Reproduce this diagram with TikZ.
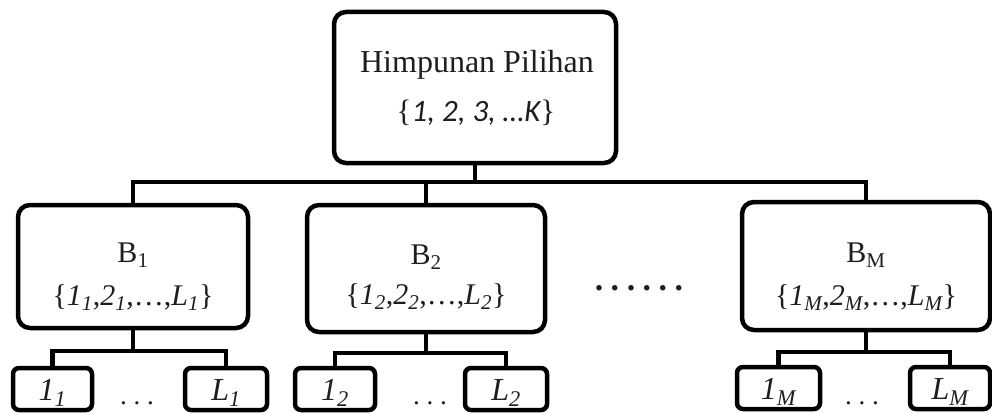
\documentclass[tikz,border=0pt]{standalone}
\usepackage{fontspec}
\setmainfont{Liberation Serif}
\newfontfamily\calib{Carlito}
\definecolor{ink}{HTML}{1E1E1E}
\begin{document}
\begin{tikzpicture}[x=1pt,y=-1pt,
  frame/.style={draw=black, line width=4.5pt, rounded corners=12pt, inner sep=0pt},
  leaf/.style={draw=black, line width=4.5pt, rounded corners=6pt, inner sep=0pt,
    minimum height=42pt},
  link/.style={draw=black, line width=4.5pt, line cap=rect},
  txt/.style={text=ink, inner sep=0pt, anchor=base},
  big/.style={font=\fontsize{32}{36}\selectfont},
  mid/.style={font=\fontsize{30}{36}\selectfont},
  lbl/.style={font=\fontsize{32}{36}\selectfont},
  dots/.style={txt, font=\fontsize{27}{30}\selectfont}
]
\useasboundingbox (0,0) rectangle (992,412);

% root box and its two text lines
\node[frame, minimum width=282pt, minimum height=151pt] (root) at (475,87.5) {};
\node[txt, big] (roott) at (477,72) {Himpunan Pilihan};
\node[txt, font=\fontsize{31}{36}\selectfont] (roots) at (476,121) {\{{\calib\itshape 1, 2, 3, \ldots K}\}};

% second level boxes
\node[frame, minimum width=230pt, minimum height=123pt] (b1) at (133,266.5) {};
\node[frame, minimum width=238pt, minimum height=127pt] (b2) at (426,268.5) {};
\node[frame, minimum width=248pt, minimum height=128pt] (bm) at (866,266) {};

\node[txt, mid] (b1t) at (133,262) {B\textsubscript{1}};
\node[txt, mid] (b1s) at (133,305) {\{\textit{1\textsubscript{1}},\textit{2\textsubscript{1}},\ldots,\textit{L\textsubscript{1}}\}};
\node[txt, mid] (b2t) at (426,264) {B\textsubscript{2}};
\node[txt, mid] (b2s) at (426,304) {\{\textit{1\textsubscript{2}},\textit{2\textsubscript{2}},\ldots,\textit{L\textsubscript{2}}\}};
\node[txt, mid] (bmt) at (866,262) {B\textsubscript{M}};
\node[txt, mid] (bms) at (866,305) {\{\textit{1\textsubscript{M}},\textit{2\textsubscript{M}},\ldots,\textit{L\textsubscript{M}}\}};

% middle ellipsis
\node[txt, font=\fontsize{34}{36}\selectfont\bfseries] (gap) at (639,290)
  {.\hspace{7.5pt}.\hspace{7.5pt}.\hspace{7.5pt}.\hspace{7.5pt}.\hspace{7.5pt}.};

% leaves
\node[leaf, minimum width=79pt] (i1) at (52.5,389) {};
\node[leaf, minimum width=82pt] (l1) at (226,389) {};
\node[leaf, minimum width=80pt] (i2) at (335,389) {};
\node[leaf, minimum width=82pt] (l2) at (506,389) {};
\node[leaf, minimum width=83pt] (im) at (778.5,388) {};
\node[leaf, minimum width=80pt] (lm) at (950,388) {};

\node[txt, lbl] (i1t) at (52.5,400) {\textit{1\textsubscript{1}}};
\node[txt, lbl] (l1t) at (226,400) {\textit{L\textsubscript{1}}};
\node[txt, lbl] (i2t) at (335,400) {\textit{1\textsubscript{2}}};
\node[txt, lbl] (l2t) at (506,400) {\textit{L\textsubscript{2}}};
\node[txt, lbl] (imt) at (778.5,399) {\textit{1\textsubscript{M}}};
\node[txt, lbl] (lmt) at (950,399) {\textit{L\textsubscript{M}}};

\node[dots] (d1) at (137,404) {.\ .\ .};
\node[dots] (d2) at (430,404) {.\ .\ .};
\node[dots] (dm) at (862,404) {.\ .\ .};

% connectors
\coordinate (bus) at (0,182);
\draw[link] (root.south) -- (root.south |- bus);
\draw[link] (b1.north) -- (b1.north |- bus) -- (bm.north |- bus) -- (bm.north);
\draw[link] (b2.north) -- (b2.north |- bus);

\coordinate (s1) at (0,351);
\draw[link] (b1.south) -- (b1.south |- s1);
\draw[link] (i1.north) -- (i1.north |- s1) -- (l1.north |- s1) -- (l1.north);
\coordinate (s2) at (0,353);
\draw[link] (b2.south) -- (b2.south |- s2);
\draw[link] (i2.north) -- (i2.north |- s2) -- (l2.north |- s2) -- (l2.north);
\coordinate (sm) at (0,352);
\draw[link] (bm.south) -- (bm.south |- sm);
\draw[link] (im.north) -- (im.north |- sm) -- (lm.north |- sm) -- (lm.north);
\end{tikzpicture}
\end{document}
